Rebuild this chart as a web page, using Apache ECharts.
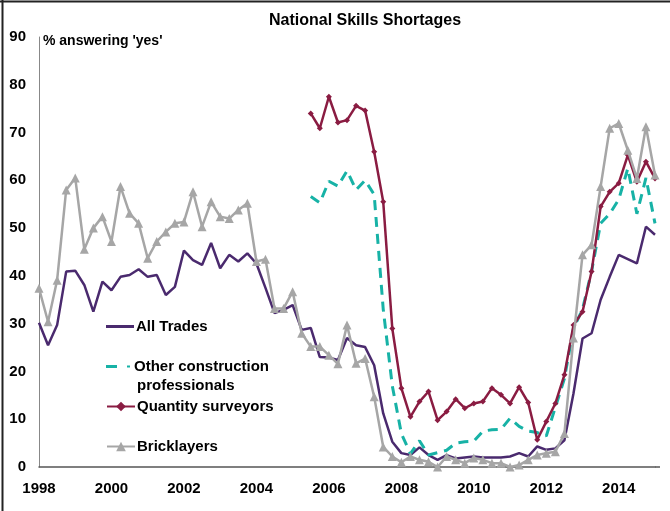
<!DOCTYPE html>
<html>
<head>
<meta charset="utf-8">
<script src="https://cdn.jsdelivr.net/npm/echarts@6/dist/echarts.min.js"></script>
<style>
html,body{margin:0;padding:0;background:#fff;}
#chart{width:670px;height:511px;}
</style>
</head>
<body>
<div id="chart"></div>
<script>
// Quarterly categories 1998 Q1 .. 2015 Q1
var startYear = 1998, endYear = 2015;
var categories = [];
for (var y = startYear; y <= endYear; y++) {
  for (var q = 1; q <= 4; q++) {
    if (y === endYear && q > 1) break;
    categories.push(y + ' Q' + q);
  }
}
var xTickLabels = ['1998','2000','2002','2004','2006','2008','2010','2012','2014'];
var yTicks = [0,10,20,30,40,50,60,70,80,90];

var allTrades = [30.2,25.5,29.7,40.9,41.1,38.1,32.5,38.8,37.0,39.8,40.2,41.4,39.8,40.2,36.0,37.7,
  45.3,43.3,42.3,46.9,41.6,44.4,43.0,44.7,42.6,37.5,32.2,32.9,33.9,28.7,29.1,23.0,22.9,22.4,27.0,25.5,
  25.1,21.3,11.2,5.3,2.9,2.5,4.1,2.5,1.5,2.5,1.8,2.0,2.2,2.0,2.0,2.0,2.2,2.9,2.2,4.3,3.6,3.9,5.6,15.4,
  26.9,28.0,35.0,39.8,44.4,43.5,42.6,50.3,48.6];

var bricklayers = [37.4,30.4,39.1,58.0,60.5,45.6,50.0,52.4,47.2,58.7,53.1,51.0,43.7,47.2,49.2,51.0,
  51.3,57.6,50.3,55.5,52.4,52.0,53.8,55.2,43.0,43.5,33.2,33.2,36.7,28.0,25.2,25.2,23.4,21.6,29.7,21.7,
  22.7,14.7,4.2,2.2,1.0,2.2,1.5,1.1,0.0,2.2,1.5,0.8,1.9,1.5,0.8,0.8,0.0,0.4,1.5,2.5,2.9,3.2,7.0,27.0,
  44.4,46.5,58.7,70.9,71.9,66.3,60.4,71.2,61.1];

// These two series start in 2005 Q3
var laterStart = '2005 Q3';
var quantitySurveyors = [74.0,70.9,77.5,72.1,72.6,75.6,74.6,66.0,55.5,29.0,16.5,10.5,13.7,15.8,9.8,11.6,
  14.2,12.3,13.3,13.7,16.5,15.1,13.3,16.7,13.5,5.7,9.5,13.3,19.3,29.7,32.5,40.9,54.5,57.6,59.4,65.3,
  59.7,63.9,60.4];
var otherProfessionals = [56.6,55.3,59.8,58.8,62.0,58.0,60.0,57.0,33.0,17.0,7.0,2.8,5.5,2.5,3.0,3.5,
  5.0,5.3,5.4,7.5,7.8,7.9,10.2,8.5,7.5,7.2,6.5,12.5,18.5,29.0,33.0,41.0,51.0,53.0,56.0,62.5,
  53.0,60.5,51.0];

function padFrom(startCat, arr) {
  var idx = categories.indexOf(startCat);
  var out = [];
  for (var i = 0; i < idx; i++) out.push(null);
  return out.concat(arr);
}

var FONT = "'Liberation Sans Narrow','Arial Narrow','Liberation Sans',Arial,sans-serif";
var cPurple = '#4a2a6e', cTeal = '#17b2a6', cMaroon = '#8a1c42', cGray = '#a6a6a6';

var chart = echarts.init(document.getElementById('chart'), null, {renderer:'canvas'});

function legendBox(item, top, h) {
  return {
    data: [item], left: 106, top: top, orient: 'vertical',
    itemWidth: 28, itemHeight: h, itemGap: 0, padding: 0,
    selectedMode: false,
    formatter: function (n) { return n === 'Other construction professionals' ? 'Other construction' : n; },
    textStyle: {fontFamily: FONT, fontWeight: 'bold', fontSize: 15, color: '#000', padding: [0,0,0,-3]}
  };
}

chart.setOption({
  animation: false,
  backgroundColor: '#fff',
  title: {
    text: 'National Skills Shortages', left: 360, top: 8, textAlign: 'center',
    textStyle: {fontFamily: FONT, fontWeight: 'bold', fontSize: 16, color: '#000'}
  },
  grid: {left: 39, right: 15, top: 37, bottom: 44},
  legend: [
    legendBox({name: 'All Trades', icon: 'rect'}, 319, 3),
    legendBox({name: 'Other construction professionals', icon: 'path://M0,0h11v3h-11z M21,0.5h3v2h-3z'}, 359, 3),
    legendBox({name: 'Quantity surveyors'}, 399, 12),
    legendBox({name: 'Bricklayers'}, 439, 12)
  ],
  graphic: [
    {type:'line', shape:{x1:0,y1:1.5,x2:670,y2:1.5}, style:{stroke:'#222', lineWidth:2}},
    {type:'line', shape:{x1:2.5,y1:0,x2:2.5,y2:511}, style:{stroke:'#222', lineWidth:2}},
    {type:'line', shape:{x1:655,y1:467,x2:660,y2:467}, style:{stroke:'#555', lineWidth:1.5}},
    {type:'text', left: 43, top: 34, style:{text:"% answering 'yes'", font: "bold 14px " + FONT, fill:'#000'}},
    {type:'text', left: 137, top: 378, style:{text:'professionals', font: "bold 15px " + FONT, fill:'#000'}}
  ],
  xAxis: {
    type: 'category', data: categories, boundaryGap: false,
    axisLine: {lineStyle: {color: '#555', width: 1.5}},
    axisTick: {show: false},
    axisLabel: {
      interval: function (i) { return i % 8 === 0; },
      formatter: function (v) { var yr = v.slice(0,4); return xTickLabels.indexOf(yr) >= 0 ? yr : ''; },
      fontFamily: FONT, fontWeight: 'bold', fontSize: 15, color: '#000', margin: 14
    },
    splitLine: {show: false}
  },
  yAxis: {
    type: 'value', min: 0, max: 90, interval: 10,
    axisLine: {show: true, lineStyle: {color: '#888', width: 1}},
    axisTick: {show: false},
    splitLine: {show: false},
    axisLabel: {
      formatter: function (v) { return yTicks.indexOf(v) >= 0 ? String(v) : ''; },
      fontFamily: FONT, fontWeight: 'bold', fontSize: 15, color: '#000', margin: 13
    }
  },
  series: [
    {name:'All Trades', type:'line', data: allTrades, symbol:'none', z: 2,
      lineStyle:{color:cPurple, width:2.5}, itemStyle:{color:cPurple}},
    {name:'Other construction professionals', type:'line', data: padFrom(laterStart, otherProfessionals),
      symbol:'none', z: 3, lineStyle:{color:cTeal, width:3, type:[10,7]}, itemStyle:{color:cTeal}},
    {name:'Quantity surveyors', type:'line', data: padFrom(laterStart, quantitySurveyors),
      symbol:'diamond', symbolSize:6, showSymbol: true, showAllSymbol: true, z: 4,
      lineStyle:{color:cMaroon, width:2.5}, itemStyle:{color:cMaroon}},
    {name:'Bricklayers', type:'line', data: bricklayers, symbol:'triangle', symbolSize:9,
      showSymbol: true, showAllSymbol: true, z: 5,
      lineStyle:{color:cGray, width:2.5}, itemStyle:{color:cGray}}
  ]
});
</script>
</body>
</html>
